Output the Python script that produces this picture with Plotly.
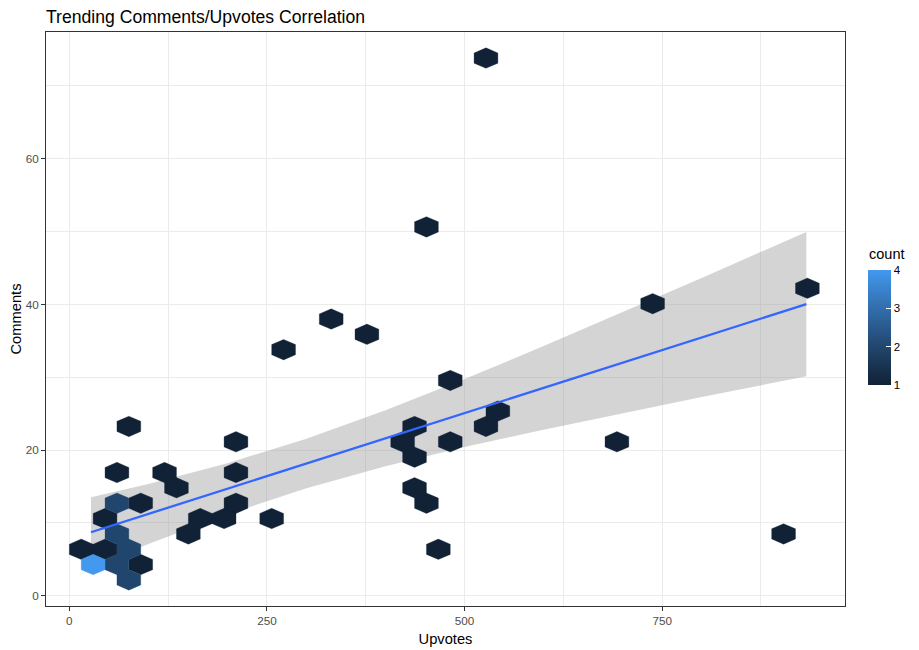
import plotly.graph_objects as go

# ---------------- data ----------------
hex_upvotes = [527.1, 451.8, 933.72, 737.94, 331.32, 376.5, 271.08, 481.92, 542.16,
               436.74, 527.1, 75.3, 421.68, 481.92, 692.76, 210.84, 436.74,
               60.24, 120.48, 210.84, 135.54, 436.74,
               60.24, 90.36, 210.84, 451.8,
               45.18, 165.66, 195.78, 256.02,
               60.24, 150.6, 903.6,
               15.06, 45.18, 75.3, 466.86,
               30.12, 60.24, 90.36,
               75.3]
hex_comments = [73.83, 50.64, 42.21, 40.10, 37.99, 35.89, 33.78, 29.56, 25.35,
                23.24, 23.24, 23.24, 21.13, 21.13, 21.13, 21.13, 19.02,
                16.91, 16.91, 16.91, 14.81, 14.81,
                12.70, 12.70, 12.70, 12.70,
                10.59, 10.59, 10.59, 10.59,
                8.48, 8.48, 8.48,
                6.37, 6.37, 6.37, 6.37,
                4.27, 4.27, 4.27,
                2.16]
hex_count = [1, 1, 1, 1, 1, 1, 1, 1, 1,
             1, 1, 1, 1, 1, 1, 1, 1,
             1, 1, 1, 1, 1,
             2, 1, 1, 1,
             1, 1, 1, 1,
             2, 1, 1,
             1, 1, 2, 1,
             4, 2, 1,
             2]

smooth_x = [27.4, 100, 200, 300, 400, 500, 600, 700, 800, 932.4]
smooth_y = [8.71, 11.22, 14.68, 18.15, 21.61, 25.07, 28.53, 31.99, 35.46, 40.04]
smooth_lo = [3.90, 7.09, 11.17, 14.75, 17.77, 20.40, 22.79, 25.07, 27.28, 30.12]
smooth_hi = [13.52, 15.35, 18.19, 21.55, 25.45, 29.74, 34.27, 38.91, 43.64, 49.96]

x_ticks = [0, 250, 500, 750]
y_ticks = [0, 20, 40, 60]
count_ticks = [1, 2, 3, 4]

# ---------------- styling helpers ----------------
HEX_W = 30.12          # hex bin width in upvotes
HEX_R = 2.108 / 1.5    # hex vertex radius in comments
LOW, HIGH = "#112236", "#4299EE"
FONT = "Liberation Sans, Arial, Helvetica, sans-serif"

# the page body has an 8px margin; the figure is sized to fit the window
PAGE_PAD = 8
FIG_W, FIG_H = 919 - PAGE_PAD, 650 - PAGE_PAD
PLOT_L, PLOT_R, PLOT_T, PLOT_B = 46, 845, 32, 606   # panel edges in window px
PW, PH = PLOT_R - PLOT_L, PLOT_B - PLOT_T


def hex2rgb(h):
    h = h.lstrip("#")
    return [int(h[i:i + 2], 16) / 255 for i in (0, 2, 4)]


def srgb_to_lab(rgb):
    def lin(c):
        return c / 12.92 if c <= 0.04045 else ((c + 0.055) / 1.055) ** 2.4
    r, g, b = [lin(c) for c in rgb]
    X = (0.4124 * r + 0.3576 * g + 0.1805 * b) / 0.95047
    Y = (0.2126 * r + 0.7152 * g + 0.0722 * b)
    Z = (0.0193 * r + 0.1192 * g + 0.9505 * b) / 1.08883

    def f(t):
        return t ** (1 / 3) if t > 0.008856 else 7.787 * t + 16 / 116
    fx, fy, fz = f(X), f(Y), f(Z)
    return [116 * fy - 16, 500 * (fx - fy), 200 * (fy - fz)]


def lab_to_hex(lab):
    L, a, b = lab
    fy = (L + 16) / 116
    fx = fy + a / 500
    fz = fy - b / 200

    def finv(t):
        return t ** 3 if t ** 3 > 0.008856 else (t - 16 / 116) / 7.787
    X, Y, Z = finv(fx) * 0.95047, finv(fy), finv(fz) * 1.08883
    r = 3.2406 * X - 1.5372 * Y - 0.4986 * Z
    g = -0.9689 * X + 1.8758 * Y + 0.0415 * Z
    bb = 0.0557 * X - 0.2040 * Y + 1.0570 * Z

    def gam(c):
        c = max(0.0, min(1.0, c))
        return 12.92 * c if c <= 0.0031308 else 1.055 * c ** (1 / 2.4) - 0.055
    return "#%02X%02X%02X" % tuple(int(round(gam(c) * 255)) for c in (r, g, bb))


lab_lo, lab_hi = srgb_to_lab(hex2rgb(LOW)), srgb_to_lab(hex2rgb(HIGH))


def ramp(t):
    return lab_to_hex([lab_lo[i] + (lab_hi[i] - lab_lo[i]) * t for i in range(3)])


cmin, cmax = min(count_ticks), max(count_ticks)
colorscale = [[i / 20, ramp(i / 20)] for i in range(21)]

fig = go.Figure()

# confidence ribbon (beneath the hexagons)
fig.add_trace(go.Scatter(
    x=smooth_x + smooth_x[::-1], y=smooth_hi + smooth_lo[::-1],
    mode="lines", fill="toself", fillcolor="rgba(153,153,153,0.42)",
    line=dict(width=0), hoverinfo="skip", showlegend=False))

# hexagons grouped by count
for c in sorted(set(hex_count)):
    xs, ys = [], []
    for hx, hy, hc in zip(hex_upvotes, hex_comments, hex_count):
        if hc != c:
            continue
        w2, r = HEX_W / 2, HEX_R
        xs += [hx + w2, hx, hx - w2, hx - w2, hx, hx + w2, hx + w2, None]
        ys += [hy + r / 2, hy + r, hy + r / 2, hy - r / 2, hy - r, hy - r / 2, hy + r / 2, None]
    col = ramp((c - cmin) / (cmax - cmin))
    fig.add_trace(go.Scatter(x=xs, y=ys, mode="lines", fill="toself",
                             fillcolor=col, line=dict(color=col, width=0.3),
                             hoverinfo="skip", showlegend=False))

# invisible trace carrying the colour bar
fig.add_trace(go.Scatter(
    x=hex_upvotes, y=hex_comments, mode="markers",
    marker=dict(color=hex_count, colorscale=colorscale, cmin=cmin, cmax=cmax,
                size=1, opacity=0, showscale=True,
                colorbar=dict(
                    tickvals=count_ticks, ticktext=[str(v) for v in count_ticks],
                    ticks="inside", ticklen=5, tickcolor="white", tickwidth=1,
                    tickfont=dict(family=FONT, size=11.5, color="#000000"),
                    thickness=23, thicknessmode="pixels",
                    len=115, lenmode="pixels", ypad=0, xpad=0,
                    outlinewidth=0,
                    x=(868 - PLOT_L) / PW, xanchor="left",
                    y=(PLOT_B - 385) / PH, yanchor="bottom")),
    hoverinfo="skip", showlegend=False))

# fitted line
fig.add_trace(go.Scatter(x=smooth_x, y=smooth_y, mode="lines",
                         line=dict(color="#3366FF", width=2.3),
                         hoverinfo="skip", showlegend=False))

axis_common = dict(
    showgrid=True, gridcolor="#EBEBEB", gridwidth=1.1,
    zeroline=False, showline=True, mirror=True,
    linecolor="#333333", linewidth=1,
    ticks="outside", ticklen=4, tickcolor="#333333", tickwidth=1,
    tickfont=dict(family=FONT, size=11.7, color="#4D4D4D"),
    automargin=False,
)

fig.update_xaxes(range=[-29.5, 981.3], tickvals=x_ticks,
                 minor=dict(dtick=125, tick0=125, showgrid=True,
                            gridcolor="#EBEBEB", gridwidth=0.55, ticks=""),
                 title=dict(text="Upvotes", standoff=7,
                            font=dict(family=FONT, size=14.7, color="#000000")),
                 **axis_common)
fig.update_yaxes(range=[-1.42, 77.41], tickvals=y_ticks,
                 minor=dict(dtick=10, tick0=10, showgrid=True,
                            gridcolor="#EBEBEB", gridwidth=0.55, ticks=""),
                 title=dict(text="Comments", standoff=5,
                            font=dict(family=FONT, size=14.7, color="#000000")),
                 **axis_common)

fig.add_annotation(text="count", xref="paper", yref="paper",
                   x=(868 - PLOT_L) / PW, xanchor="left",
                   y=(PLOT_B - 263) / PH, yanchor="bottom",
                   showarrow=False, borderpad=0,
                   font=dict(family=FONT, size=14.5, color="#000000"))

fig.update_layout(
    width=FIG_W, height=FIG_H,
    margin=dict(l=PLOT_L - PAGE_PAD, r=919 - PLOT_R, t=PLOT_T - PAGE_PAD,
                b=650 - PLOT_B, autoexpand=False),
    paper_bgcolor="white", plot_bgcolor="white",
    font=dict(family=FONT),
    title=dict(text="Trending Comments/Upvotes Correlation",
               x=(46 - PAGE_PAD) / FIG_W, xanchor="left", xref="container",
               y=1 - 3 / FIG_H, yanchor="top", yref="container",
               font=dict(family=FONT, size=17.6, color="#000000")),
    showlegend=False,
)

fig.write_html("out.html")
